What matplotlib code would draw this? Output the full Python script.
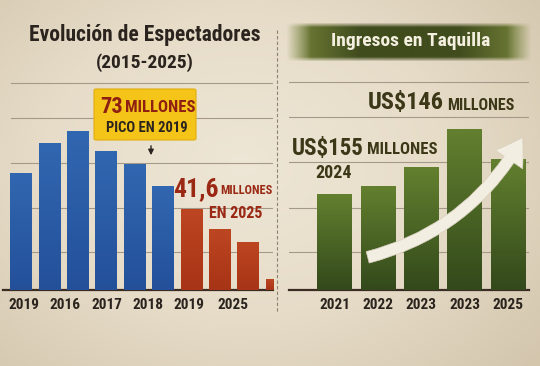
import numpy as np
import matplotlib
matplotlib.use("Agg")
import matplotlib.pyplot as plt
from matplotlib.colors import LinearSegmentedColormap, to_rgb
from matplotlib.patches import FancyArrowPatch, FancyBboxPatch

# espectadores (millones) por barra
spect_vals = [54, 67.5, 73, 64, 58, 48, 37, 28, 22, 5]
spect_is_red = [False] * 6 + [True] * 4
spect_tick_pos = [0.12, 1.56, 3.04, 4.48, 5.92, 7.47]
spect_tick_labels = ["2019", "2016", "2017", "2018", "2019", "2025"]
spect_grid = [17.5, 38, 58.5, 79.5, 95.6]

# ingresos en taquilla (millones US$)
rev_vals = [87, 94, 111, 146, 118]
rev_labels = ["2021", "2022", "2023", "2023", "2025"]
rev_grid = [34.5, 74, 116, 157, 189]

FONT = ["Roboto Condensed", "Liberation Sans Narrow", "Roboto", "DejaVu Sans"]
plt.rcParams["font.family"] = FONT

W, H = 540, 366
fig = plt.figure(figsize=(5.4, 3.66), dpi=100)
fig.patch.set_facecolor("#e6dcc9")


def fx(x):
    return x / W


def fy(y):
    return 1 - y / H


def grad_bars(ax, bars, c_top, c_bot):
    cmap = LinearSegmentedColormap.from_list("g", [c_bot, c_top])
    for b in bars:
        x, y = b.get_xy()
        im = ax.imshow(np.linspace(0, 1, 64).reshape(-1, 1), cmap=cmap,
                       extent=[x, x + b.get_width(), y, y + b.get_height()],
                       origin="lower", aspect="auto", zorder=3)
        im.set_clip_path(b)
        im.set_clip_box(ax.bbox)
        b.set_facecolor("none")


# parchment background with a soft vignette
bg = fig.add_axes([0, 0, 1, 1], zorder=-10)
yy, xx = np.mgrid[0:1:200j, 0:1:300j]
r = np.sqrt((xx - 0.45) ** 2 + ((yy - 0.45) * 0.9) ** 2)
bg.imshow(r, cmap=LinearSegmentedColormap.from_list(
    "p", ["#eee6d6", "#e6dcc8", "#d3c5ac"]), extent=[0, 1, 0, 1],
    aspect="auto", vmin=0, vmax=0.75)

# green brush banner behind the right title
by, bx = np.mgrid[0:1:40j, 0:1:245j]
edge = np.clip(np.minimum(bx, 1 - bx) / 0.1, 0, 1) * np.clip(np.minimum(by, 1 - by) / 0.12, 0, 1)
mix = np.clip(np.minimum(bx, 1 - bx) / 0.3, 0, 1)[..., None]
dark = np.array(to_rgb("#404c1d"))
light = np.array(to_rgb("#7a873c"))
rgba = np.dstack([light * (1 - mix) + dark * mix, edge])
bg.imshow(rgba, extent=[fx(286), fx(532), fy(62), fy(22)], aspect="auto", zorder=2)
bg.set_xlim(0, 1)
bg.set_ylim(0, 1)
bg.set_axis_off()

INK = "#2b241e"
GRID = "#a59a8a"

# ---------- left panel ----------
step_l = 28.4
x0_l = 20.7
axl = fig.add_axes([fx(3), fy(290), fx(273 - 3), (290 - 80) / H])
axl.set_facecolor("none")
idx = np.arange(len(spect_vals))
blue = [i for i, red in enumerate(spect_is_red) if not red]
red = [i for i, red in enumerate(spect_is_red) if red]
bb = axl.bar(idx[blue], np.array(spect_vals)[blue], width=0.74, zorder=3)
rb = axl.bar(idx[red], np.array(spect_vals)[red], width=0.74, zorder=3)
grad_bars(axl, bb, "#3167b0", "#24509a")
grad_bars(axl, rb, "#bd4622", "#a73416")
axl.set_xlim((3 - x0_l) / step_l, (273 - x0_l) / step_l)
axl.set_ylim(0, 210 * 73 / 158)
for g in spect_grid:
    axl.axhline(g, xmin=0.03, color=GRID, lw=0.8, zorder=1)
axl.set_xticks(spect_tick_pos)
axl.set_xticklabels(spect_tick_labels, fontsize=11, fontweight="bold", color=INK)
axl.tick_params(length=0, pad=6)
axl.set_yticks([])
for s in ["top", "right", "left"]:
    axl.spines[s].set_visible(False)
axl.spines["bottom"].set_color("#3a2c22")
axl.spines["bottom"].set_linewidth(1.6)

fig.text(fx(145), fy(35), "Evolución de Espectadores", ha="center", va="center",
         fontsize=15.5, fontweight="bold", color=INK)
fig.text(fx(145), fy(63), "(2015-2025)", ha="center", va="center",
         fontsize=14, fontweight="bold", color=INK)

# yellow callout
fig.patches.append(FancyBboxPatch((fx(94), fy(140)), fx(102), (140 - 89) / H,
                                  boxstyle="round,pad=0,rounding_size=0.004",
                                  transform=fig.transFigure, facecolor="#f4c419",
                                  edgecolor="#e2ad10", lw=0.8, zorder=5))
fig.text(fx(123), fy(107), "73", ha="right", va="center", fontsize=16,
         fontweight="bold", color="#8e1f12", zorder=6)
fig.text(fx(125), fy(108), "MILLONES", ha="left", va="center", fontsize=12,
         fontweight="bold", color="#8e1f12", zorder=6)
fig.text(fx(147), fy(128), "PICO EN 2019", ha="center", va="center", fontsize=10.5,
         fontweight="bold", color=INK, zorder=6)
fig.patches.append(FancyArrowPatch((fx(151), fy(143)), (fx(151), fy(158)),
                                   transform=fig.transFigure, arrowstyle="-|>",
                                   mutation_scale=8, color=INK, lw=1, zorder=6))

fig.text(fx(219), fy(189), "41,6", ha="right", va="center", fontsize=18.5,
         fontweight="bold", color="#9a2813")
fig.text(fx(220), fy(190), "MILLONES", ha="left", va="center", fontsize=8.8,
         fontweight="bold", color="#9a2813")
fig.text(fx(236), fy(213), "EN 2025", ha="center", va="center", fontsize=11.5,
         fontweight="bold", color="#9a2813")

# divider
fig.add_artist(plt.Line2D([fx(277), fx(277)], [fy(30), fy(312)],
                          transform=fig.transFigure, color="#8c8172",
                          lw=0.8, ls=(0, (3, 2))))

# ---------- right panel ----------
step_r = 43.4
x0_r = 334.5
axr = fig.add_axes([fx(289), fy(290), fx(529 - 289), (290 - 80) / H])
axr.set_facecolor("none")
idx_r = np.arange(len(rev_vals))
gb = axr.bar(idx_r, rev_vals, width=0.8, zorder=3)
grad_bars(axr, gb, "#62802f", "#33491b")
axr.set_xlim((289 - x0_r) / step_r, (529 - x0_r) / step_r)
axr.set_ylim(0, 210 * 146 / 161)
for g in rev_grid:
    axr.axhline(g, color=GRID, lw=0.8, zorder=1)
axr.set_xticks(idx_r)
axr.set_xticklabels(rev_labels, fontsize=11, fontweight="bold", color=INK)
axr.tick_params(length=0, pad=6)
axr.set_yticks([])
for s in ["top", "right", "left"]:
    axr.spines[s].set_visible(False)
axr.spines["bottom"].set_color("#3a2c22")
axr.spines["bottom"].set_linewidth(1.6)

fig.text(fx(411), fy(41), "Ingresos en Taquilla", ha="center", va="center",
         fontsize=14, fontweight="bold", color="#f4efdf", zorder=5)

OLIVE = "#3b3717"
fig.text(fx(444), fy(103), "US$146", ha="right", va="center", fontsize=17.5,
         fontweight="bold", color=OLIVE)
fig.text(fx(447), fy(105), "MILLONES", ha="left", va="center", fontsize=11.5,
         fontweight="bold", color=OLIVE)
fig.text(fx(364), fy(148), "US$155", ha="right", va="center", fontsize=16.5,
         fontweight="bold", color=OLIVE)
fig.text(fx(367), fy(150), "MILLONES", ha="left", va="center", fontsize=12,
         fontweight="bold", color=OLIVE)
fig.text(fx(334), fy(173), "2024", ha="center", va="center", fontsize=13,
         fontweight="bold", color=OLIVE)

fig.patches.append(FancyArrowPatch((fx(365), fy(258)), (fx(524), fy(135)),
                                   transform=fig.transFigure,
                                   connectionstyle="arc3,rad=0.22",
                                   arrowstyle="simple,tail_width=0.5,head_width=1.4,head_length=1.1",
                                   mutation_scale=17, facecolor="#f3eee2",
                                   edgecolor="#d8d0bd", lw=0.5, zorder=8))

fig.savefig("out.png", dpi=100, facecolor=fig.get_facecolor())
